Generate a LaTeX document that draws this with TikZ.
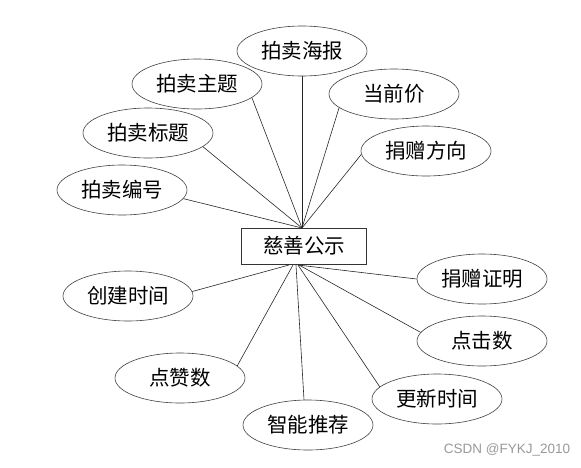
\documentclass[tikz,border=0pt]{standalone}
\usepackage{fontspec}
\newfontfamily\cjk{Noto Sans CJK SC}
\newfontfamily\wmfont{Liberation Sans}
\usetikzlibrary{shapes.geometric}
\begin{document}
\begin{tikzpicture}[x=1pt,y=-1pt,
  attr/.style={ellipse, draw=black!75, line width=0.6pt, minimum width=130pt, minimum height=50pt, inner sep=0pt, font=\cjk\fontsize{20.5}{20.5}\selectfont},
  ent/.style={rectangle, draw=black!80, line width=0.8pt, minimum width=125pt, minimum height=36pt, inner sep=0pt, font=\cjk\fontsize{20.5}{20.5}\selectfont},
  link/.style={draw=black!85, line width=0.6pt}]
\useasboundingbox (0,0) rectangle (581,467);
% entity
\node[ent] (main) at (304,246) {慈善公示};
\coordinate (top) at (302,228);
\coordinate (b1) at (289,265);
\coordinate (b2) at (293,265);
\coordinate (b3) at (296,265);
\coordinate (b4) at (298,265);
\coordinate (b5) at (299,265);
\coordinate (b6) at (298,265);
% attributes top
\node[attr] (haibao) at (302,51) {拍卖海报};
\node[attr] (zhuti) at (197,84) {拍卖主题};
\node[attr] (jia) at (394,94) {当前价};
\node[attr] (biaoti) at (148,133) {拍卖标题};
\node[attr] (fangxiang) at (426,151) {捐赠方向};
\node[attr] (bianhao) at (122,190) {拍卖编号};
% attributes bottom
\node[attr] (chuangjian) at (128,296) {创建时间};
\node[attr] (zhengming) at (482,279) {捐赠证明};
\node[attr] (dianji) at (482,341) {点击数};
\node[attr] (dianzan) at (180,378) {点赞数};
\node[attr] (gengxin) at (437,399) {更新时间};
\node[attr] (tuijian) at (308,425) {智能推荐};
% connectors top
\draw[link] (haibao.south) -- (top);
\draw[link] (zhuti.-14) -- (top);
\draw[link] (jia.194) -- (top);
\draw[link] (biaoti.-14) -- (top);
\draw[link] (fangxiang.183) -- (top);
\draw[link] (bianhao.-8) -- (top);
% connectors bottom
\draw[link] (b1) -- (chuangjian.4);
\draw[link] (b2) -- (dianzan.12);
\draw[link] (b3) -- (tuijian.99);
\draw[link] (b4) -- (gengxin.168);
\draw[link] (b5) -- (dianji.172);
\draw[link] (b6) -- (zhengming.180);
% watermark
\node[text=black!40, font=\wmfont\fontsize{13.5}{13.5}\selectfont, inner sep=0pt] (wm) at (507,450) {CSDN @FYKJ\_2010};
\end{tikzpicture}
\end{document}
